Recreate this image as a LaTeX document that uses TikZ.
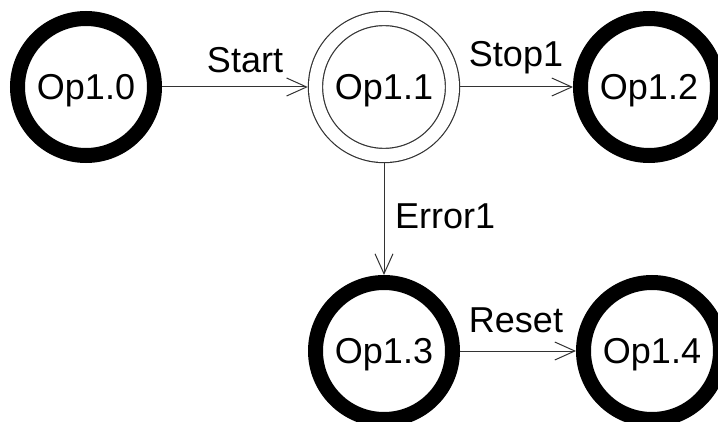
\documentclass[tikz,border=0pt]{standalone}
\usepackage{fontspec}
\setmainfont{Liberation Sans}
\usetikzlibrary{arrows.meta}
\begin{document}
\begin{tikzpicture}[x=1pt,y=-1pt,
  every node/.style={font=\fontsize{36}{40}\selectfont},
  statebase/.style={circle,inner sep=0pt,minimum size=137pt,
    text height=25.8pt,text depth=0pt,fill=white},
  opstate/.style={statebase,draw=black,line width=15pt,outer sep=7.5pt},
  initstate/.style={statebase,draw=black!80,line width=1.2pt,
    double=white,double distance=13pt,outer sep=7.7pt},
  trans/.style={draw=black!80,line width=1pt,
    -{Straight Barb[length=20pt,width=18pt]}},
  lbl/.style={anchor=base,inner sep=0pt}
]
\useasboundingbox (0,0) rectangle (718,422);

% states
\node[opstate]   (op10) at (86,87)  {Op1.0};
\node[initstate] (op11) at (384,87) {Op1.1};
\node[opstate]   (op12) at (649,87) {Op1.2};
\node[opstate]   (op13) at (384,351) {Op1.3};
\node[opstate]   (op14) at (652,351) {Op1.4};

% transitions
\draw[trans] (op10) -- (op11);
\draw[trans] (op11) -- (op12);
\draw[trans] (op11) -- (op13);
\draw[trans] (op13) -- (op14);

% transition labels
\node[lbl] (lstart) at (245,73) {Start};
\node[lbl] (lstop)  at (516,67) {Stop1};
\node[lbl,anchor=base west] (lerr) at (395,229) {Error1};
\node[lbl] (lreset) at (516,332) {Reset};
\end{tikzpicture}
\end{document}
